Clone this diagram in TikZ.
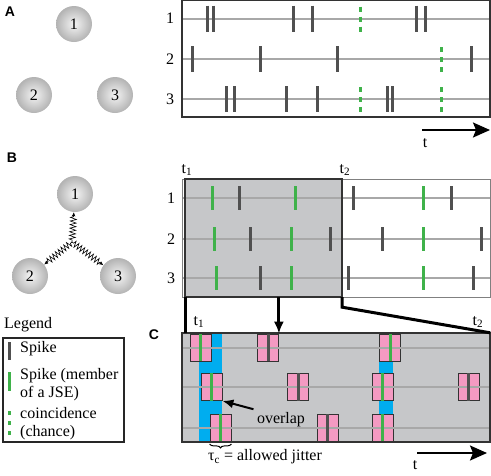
\documentclass[tikz,border=0pt]{standalone}
\usepackage{fontspec}
\setmainfont{Liberation Serif}
\setsansfont{Liberation Sans}
\usetikzlibrary{arrows.meta,decorations.pathmorphing,decorations.pathreplacing}
\definecolor{spikegray}{HTML}{505050}
\definecolor{rowgray}{HTML}{A8A8A8}
\definecolor{jsegreen}{HTML}{3FB24A}
\definecolor{wingray}{HTML}{C6C7C9}
\definecolor{jitterblue}{HTML}{00ADEF}
\definecolor{pinkfill}{HTML}{F49AC2}
\tikzset{%
  >={Latex[width=2mm,length=2mm]},
  % Specifications for style of nodes:
          neuron/.style = {circle, minimum size=36pt, inner sep=0pt,
                           inner color=gray!8, outer color=gray!60},
        panelnum/.style = {font=\sffamily\bfseries\fontsize{14}{16}\selectfont},
         pinkbox/.style = {rectangle, draw=black!80, line width=0.8pt, fill=pinkfill,
                           minimum width=21pt, minimum height=27pt, inner sep=0pt},
          window/.style = {rectangle, fill=wingray, minimum width=157pt,
                           minimum height=118pt, inner sep=0pt},
         zoombox/.style = {rectangle, fill=wingray, minimum width=308pt,
                           minimum height=109pt, inner sep=0pt},
  % Specifications for style of lines:
         rowline/.style = {draw=rowgray, line width=2pt},
           spike/.style = {draw=spikegray, line width=3pt},
             jse/.style = {draw=jsegreen, line width=3pt},
          chance/.style = {draw=jsegreen, line width=3pt, dash pattern=on 5pt off 5pt},
          spring/.style = {decorate, decoration={zigzag, segment length=3.6pt,
                           amplitude=3pt, pre length=2pt, post length=4pt},
                           -{Latex[length=4pt,width=3.5pt]}, line width=0.6pt},
        zoomline/.style = {line width=3pt},
       timearrow/.style = {line width=2pt, -{Stealth[length=17pt,width=15pt,inset=3pt]}},
}
\begin{document}
\begin{tikzpicture}[x=1pt, y=-1pt,
    every node/.style={font=\fontsize{16}{18}\selectfont}]
  \useasboundingbox (0,0) rectangle (491,475);

  % Panel A
  \node (labA) [panelnum] at (10,12) {A};
  \node (a1) [neuron] at (74,24) {1};
  \node (a2) [neuron] at (34,95) {2};
  \node (a3) [neuron] at (115,95) {3};

  \draw[rowline] (182,18.5) -- (490,18.5);
  \draw[rowline] (182,59) -- (490,59);
  \draw[rowline] (182,99) -- (490,99);
  \node (ra1) at (170,18.5) {1};
  \node (ra2) at (170,59) {2};
  \node (ra3) at (170,99) {3};
  \foreach \x in {207,213,293,312,416,425} \draw[spike] (\x,5.5) -- (\x,31.5);
  \foreach \x in {192,260,337,471} \draw[spike] (\x,46) -- (\x,72);
  \foreach \x in {226,234,286,317,387,392} \draw[spike] (\x,86) -- (\x,112);
  \draw[chance] (360,6.5) -- (360,31.5);
  \draw[chance] (441,47) -- (441,72);
  \foreach \x in {360,441} \draw[chance] (\x,87) -- (\x,112);
  \draw[line width=1.2pt, draw=black!80] (182,0.6) rectangle (490,117);

  \coordinate (tA0) at (422,130);
  \coordinate (tA1) at (490,130);
  \draw[timearrow] (tA0) -- (tA1);
  \node (tA) at (425,143) {t};

  % Panel B
  \node (labB) [panelnum] at (12,158) {B};
  \node (b1) [neuron] at (75,194) {1};
  \node (b2) [neuron] at (30,276) {2};
  \node (b3) [neuron] at (118,276) {3};
  \coordinate (hub) at (72,242);
  \draw[spring] (hub) -- (b1);
  \draw[spring] (hub) -- (b2);
  \draw[spring] (hub) -- (b3);

  \node (win) [window] at (263.5,238) {};
  \draw[rowline] (182,198) -- (490,198);
  \draw[rowline] (182,239) -- (490,239);
  \draw[rowline] (182,278) -- (490,278);
  \node (rb1) at (171,198) {1};
  \node (rb2) at (171,239) {2};
  \node (rb3) at (171,278) {3};
  \foreach \x in {212,295,423} \draw[jse] (\x,186) -- (\x,210);
  \foreach \x in {239,353,451} \draw[spike] (\x,186) -- (\x,210);
  \foreach \x in {214,291,423} \draw[jse] (\x,227) -- (\x,251);
  \foreach \x in {250,330,382,481} \draw[spike] (\x,227) -- (\x,251);
  \foreach \x in {216,291,423} \draw[jse] (\x,266) -- (\x,290);
  \foreach \x in {260,348,473} \draw[spike] (\x,266) -- (\x,290);
  \draw[line width=1pt, draw=gray] (182,179) rectangle (490,297);
  \draw[line width=1.5pt, draw=black!80] (win.north west) rectangle (win.south east);
  \node (tb1) at (187,170) {t\textsubscript{1}};
  \node (tb2) at (345,170) {t\textsubscript{2}};

  % Panel C
  \node (labC) [panelnum] at (154,335) {C};
  \node (zbox) [zoombox] at (336,387.5) {};
  \fill[jitterblue] (199,333) rectangle (222,442);
  \fill[jitterblue] (379,333) rectangle (393,442);

  \node (c11) [pinkbox] at (200.5,347.5) {};
  \node (c12) [pinkbox] at (268,347.5) {};
  \node (c13) [pinkbox] at (390,347.5) {};
  \node (c21) [pinkbox] at (211.5,387) {};
  \node (c22) [pinkbox] at (298,387) {};
  \node (c23) [pinkbox] at (382.5,387) {};
  \node (c24) [pinkbox] at (468.5,387) {};
  \node (c31) [pinkbox] at (220.5,428) {};
  \node (c32) [pinkbox] at (327.5,428) {};
  \node (c33) [pinkbox] at (382.5,428) {};

  \draw[rowline] (182,347.5) -- (490,347.5);
  \draw[rowline] (182,387) -- (490,387);
  \draw[rowline] (182,428) -- (490,428);
  \foreach \n in {c11,c13,c21,c23,c31,c33} \draw[jse] (\n.north) -- (\n.south);
  \foreach \n in {c12,c22,c24,c32} \draw[spike] (\n.north) -- (\n.south);
  \draw[line width=1.5pt, draw=black!80] (zbox.north west) rectangle (zbox.south east);
  \node (tc1) at (199,322) {t\textsubscript{1}};
  \node (tc2) at (478,322) {t\textsubscript{2}};

  % zoom from B to C
  \draw[zoomline] ([xshift=0.5pt]win.south west) -- ([xshift=0.5pt]win.south west |- zbox.north);
  \draw[zoomline, -{Latex[length=12pt,width=10pt]}] (c12.north east |- win.south) -- (c12.north east);
  \draw[zoomline] (win.south east) -- ++(0,10) -- (zbox.north east);

  \node (olap) at (281,420) {overlap};
  \draw[line width=2pt, -{Latex[length=11pt,width=9pt]}] (olap.north west) -- (c21.south east);
  \draw[line width=1pt, decorate, decoration={brace, mirror, amplitude=4pt}]
    ([yshift=-2pt]c31.south west) -- ([yshift=-2pt]c31.south east);
  \node (jit) at (265,457) {τ\textsubscript{c} = allowed jitter};

  \coordinate (tC0) at (417,453);
  \coordinate (tC1) at (487,453);
  \draw[timearrow] (tC0) -- (tC1);
  \node (tC) at (415,465) {t};

  % Legend
  \node (leg) [anchor=west, inner sep=1pt] at (3,325) {Legend};
  \draw[line width=1.5pt, draw=black!85] (3,338) rectangle (124,442);
  \draw[spike] (9,342) -- (9,360);
  \node (lspike) [anchor=west, inner sep=2pt] at (18,349) {Spike};
  \draw[jse] (9,372) -- (9,391);
  \node (ljse) [anchor=west, align=left, inner sep=2pt] at (18,385) {Spike (member\\of a JSE)};
  \draw[jsegreen, line width=3pt, dash pattern=on 4pt off 6pt] (9,411) -- (9,436);
  \node (lchance) [anchor=west, align=left, inner sep=2pt] at (18,424) {coincidence\\(chance)};
\end{tikzpicture}
\end{document}
